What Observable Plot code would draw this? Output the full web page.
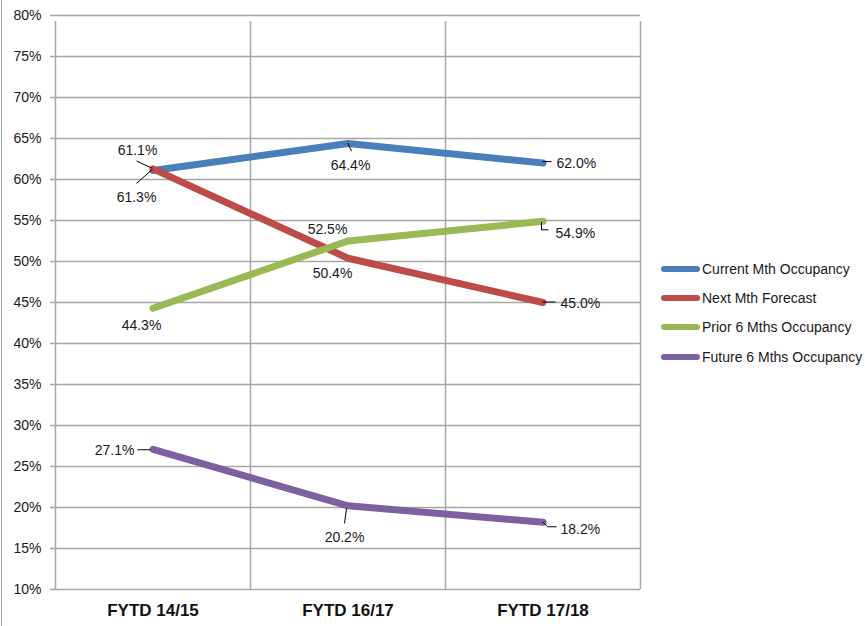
<!DOCTYPE html>
<html>
<head>
<meta charset="utf-8">
<script src="https://cdn.jsdelivr.net/npm/d3@7"></script>
<script src="https://cdn.jsdelivr.net/npm/@observablehq/plot@0.6"></script>
<style>
  html, body { margin: 0; padding: 0; background: #fff; }
  #wrap { position: relative; width: 865px; height: 626px; overflow: hidden; }
  #frame { position: absolute; left: 1px; top: -2px; width: 900px; height: 700px; border-left: 1.5px solid #a6a6a6; pointer-events: none; }
  #legend { position: absolute; left: 661px; top: 254px; font-family: "Liberation Sans", Arial, sans-serif; font-size: 14px; color: #1a1a1a; white-space: nowrap; }
  .row { display: flex; align-items: center; height: 29.4px; }
  .sw { width: 39px; height: 6px; border-radius: 3px; margin-right: 2px; flex: none; }
</style>
</head>
<body>
<div id="wrap">
  <div id="chart"></div>
  <div id="frame"></div>
  <div id="legend"></div>
</div>
<script>
// ---- data ----
const categories = ["FYTD 14/15", "FYTD 16/17", "FYTD 17/18"];
const seriesNames = ["Current Mth Occupancy", "Next Mth Forecast", "Prior 6 Mths Occupancy", "Future 6 Mths Occupancy"];
const currentMth = [61.1, 64.4, 62.0];
const nextMthForecast = [61.3, 50.4, 45.0];
const prior6Mths = [44.3, 52.5, 54.9];
const future6Mths = [27.1, 20.2, 18.2];
const yTicks = [10, 15, 20, 25, 30, 35, 40, 45, 50, 55, 60, 65, 70, 75, 80];
const seriesColors = ["#4a7ebb", "#be4b48", "#98b954", "#7d60a0"];

// label placement (pixel offsets from data point): [dx, dy, anchor, leader polyline]
const labelLayout = [
  [[-15, -20, "middle", [[-1, -2], [-16, -9]]], [3, 22, "middle", [[0, 0], [4, 8]]], [14, 0, "start", [[0, -1], [9, -1]]]],
  [[-16, 29, "middle", [[0, 1], [-16, 15]]], [-15, 15, "middle", null], [18, 1, "start", [[0, 0], [13, 0]]]],
  [[-11, 17, "middle", null], [-20, -11, "middle", null], [13, 12, "start", [[-1, 1], [-1, 9], [6, 9]]]],
  [[-18, 1, "end", [[-2, 1], [-15, 1]]], [-3, 32, "middle", [[-1, 3], [-3, 18]]], [18, 7, "start", [[0, 0], [5, 5], [14, 5]]]]
];

const seriesValues = [currentMth, nextMthForecast, prior6Mths, future6Mths];
const rows = [];
seriesValues.forEach((vals, s) => vals.forEach((v, i) => rows.push({series: seriesNames[s], s, i, x: i + 0.5, value: v})));

const font = '"Liberation Sans", Arial, sans-serif';
const gridColor = "#a6a6a6";

function labelsMark(index, scales) {
  const g = d3.create("svg:g");
  rows.forEach(r => {
    const [dx, dy, anchor, leader] = labelLayout[r.s][r.i];
    const px = scales.x(r.x), py = scales.y(r.value);
    if (leader) {
      g.append("path")
        .attr("d", d3.line()(leader.map(([a, b]) => [px + a, py + b])))
        .attr("fill", "none").attr("stroke", "#000").attr("stroke-width", 1);
    }
    g.append("text")
      .attr("x", px + dx).attr("y", py + dy)
      .attr("dy", "0.35em")
      .attr("text-anchor", anchor)
      .attr("font-family", font)
      .attr("font-size", 14)
      .attr("fill", "#1a1a1a")
      .text(r.value.toFixed(1) + "%");
  });
  return g.node();
}

const plot = Plot.plot({
  width: 865,
  height: 626,
  marginLeft: 55,
  marginRight: 225,
  marginTop: 15,
  marginBottom: 37,
  x: {type: "linear", domain: [0, 3], axis: null},
  y: {type: "linear", domain: [10, 80], axis: null},
  color: {domain: seriesNames, range: seriesColors},
  style: {fontFamily: font, fontSize: "14px", background: "transparent"},
  marks: [
    Plot.ruleY(yTicks, {x1: 0, x2: 3, stroke: gridColor, strokeWidth: 1.5, insetLeft: -5}),
    Plot.ruleX([0, 1, 2, 3], {y1: 10, y2: 80, stroke: gridColor, strokeWidth: 1.5, insetBottom: -6}),
    Plot.text(yTicks, {x: 0, y: d => d, text: d => d + "%", dx: -14, textAnchor: "end", fill: "#1a1a1a", fontSize: 14}),
    Plot.text(categories, {x: (d, i) => i + 0.5, y: 10, text: d => d, dy: 21, fontWeight: "bold", fontFamily: font, fontSize: 17, fill: "#111"}),
    Plot.line(rows, {x: "x", y: "value", z: "series", stroke: "series", strokeWidth: 7, strokeLinecap: "round", strokeLinejoin: "round"}),
    labelsMark
  ]
});
document.getElementById("chart").appendChild(plot);

const legend = document.getElementById("legend");
seriesNames.forEach((name, k) => {
  const row = document.createElement("div");
  row.className = "row";
  const sw = document.createElement("div");
  sw.className = "sw";
  sw.style.background = seriesColors[k];
  const t = document.createElement("span");
  t.textContent = name;
  row.appendChild(sw);
  row.appendChild(t);
  legend.appendChild(row);
});
</script>
</body>
</html>
